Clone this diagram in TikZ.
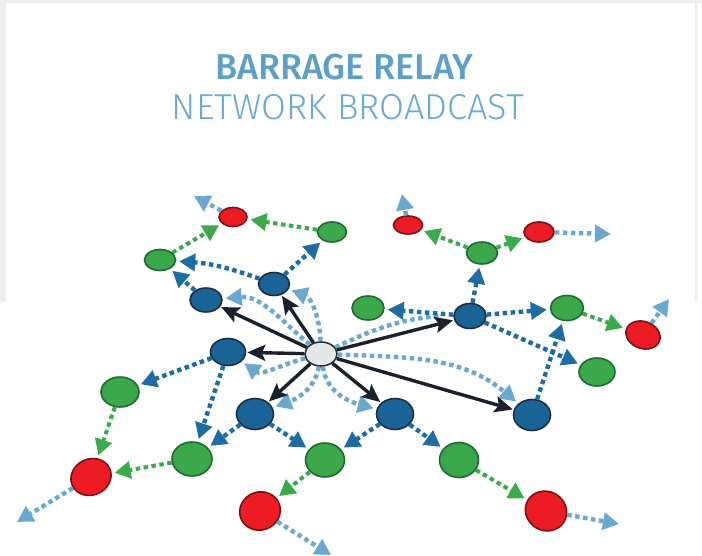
\documentclass[tikz,border=0pt]{standalone}
\usepackage{fontspec}
\setmainfont{Fira Sans}
\newfontfamily\titlemed{Fira Sans Medium}
\newfontfamily\titlelight{Fira Sans Light}
\usetikzlibrary{arrows.meta,shapes.geometric}
\definecolor{bgGray}{HTML}{EEEEEE}
\definecolor{titleBlue}{HTML}{5E9FC8}
\definecolor{titleBlueL}{HTML}{6AAAD0}
\definecolor{nodeBlue}{HTML}{1A6397}
\definecolor{blueOut}{HTML}{1C2E40}
\definecolor{edgeBlue}{HTML}{1E6CA2}
\definecolor{lightBlue}{HTML}{6AA8D0}
\definecolor{nodeGreen}{HTML}{3AA84A}
\definecolor{greenOut}{HTML}{1E6A2E}
\definecolor{edgeGreen}{HTML}{3BAA4B}
\definecolor{nodeRed}{HTML}{ED1C24}
\definecolor{redOut}{HTML}{7A1016}
\definecolor{centerGray}{HTML}{E6E7E8}
\definecolor{centerOut}{HTML}{2B2E33}
\definecolor{darkLine}{HTML}{1A212B}
\tikzset{
  nd/.style={ellipse, inner sep=0pt, line width=1.6pt},
  sz/.style 2 args={minimum width=#1pt, minimum height=#2pt},
  bn/.style={nd, fill=nodeBlue, draw=blueOut},
  gn/.style={nd, fill=nodeGreen, draw=greenOut},
  rn/.style={nd, fill=nodeRed, draw=redOut},
  cn/.style={nd, fill=centerGray, draw=centerOut},
  dotline/.style={line width=4.4pt, dash pattern=on 4.5pt off 3.5pt},
  dots/.style={dotline, -{Triangle[length=16pt,width=17pt]}, shorten >=3pt},
  lbl/.style={dots, draw=lightBlue},
  lbc/.style={dotline, draw=lightBlue},
  dbl/.style={dots, draw=edgeBlue},
  gl/.style={dots, draw=edgeGreen, line width=4pt},
  blk/.style={draw=darkLine, line width=3.4pt,
     -{Stealth[length=18pt,width=16pt,inset=3.5pt]}, shorten >=1pt},
  titleA/.style={anchor=base, text=titleBlue, font=\titlemed\fontsize{36}{40}\selectfont},
  titleB/.style={anchor=base, text=titleBlueL, font=\titlelight\fontsize{36}{40}\selectfont}
}
\begin{document}
\begin{tikzpicture}[x=1pt,y=-1pt]
\useasboundingbox (0,0) rectangle (702,556);
\fill[white] (0,0) rectangle (702,556);
\fill[bgGray] (0,0) rectangle (702,3);
\fill[bgGray] (0,0) rectangle (6,302);
\fill[bgGray] (695,0) rectangle (697,302);

\node[titleA] (t1) at (344,80) {BARRAGE RELAY};
\node[titleB] (t2) at (348,120) {NETWORK BROADCAST};

% nodes
\node[cn, sz={32}{24}] (C) at (321,354) {};
\node[bn, sz={32}{24}] (B1) at (206,300) {};
\node[bn, sz={31}{23}] (B2) at (274,284) {};
\node[bn, sz={35}{27}] (B3) at (228,352) {};
\node[bn, sz={32}{25}] (B4) at (470,316) {};
\node[bn, sz={37}{31}] (B5) at (255,414) {};
\node[bn, sz={37}{31}] (B6) at (395,414) {};
\node[bn, sz={37}{31}] (B7) at (532,415) {};
\node[gn, sz={31}{21}] (G1) at (160,260) {};
\node[gn, sz={29}{20}] (G2) at (332,232) {};
\node[gn, sz={31}{22}] (G3) at (482,253) {};
\node[gn, sz={32}{24}] (G4) at (368,308) {};
\node[gn, sz={33}{25}] (G5) at (567,308) {};
\node[gn, sz={36}{28}] (G6) at (597,372) {};
\node[gn, sz={38}{30}] (G7) at (120,392) {};
\node[gn, sz={40}{34}] (G8) at (192,459) {};
\node[gn, sz={39}{34}] (G9) at (325,460) {};
\node[gn, sz={39}{35}] (G10) at (459,460) {};
\node[rn, sz={28}{19}] (R1) at (233,217) {};
\node[rn, sz={29}{18}] (R2) at (408,225) {};
\node[rn, sz={30}{20}] (R3) at (539,232) {};
\node[rn, sz={35}{27}, rotate=-20] (R4) at (643,335) {};
\node[rn, sz={41}{36}, rotate=25] (R5) at (91,477) {};
\node[rn, sz={41}{38}, rotate=20] (R6) at (260,511) {};
\node[rn, sz={42}{39}, rotate=-30] (R7) at (546,511) {};

\coordinate (e1) at (194,196);
\coordinate (e2) at (402,194);
\coordinate (e3) at (611,234);
\coordinate (e4) at (669,299);
\coordinate (e5) at (17,522);
\coordinate (e6) at (331,555);
\coordinate (e7) at (619,524);

% light blue broadcast curves from centre
\draw[lbl] (C) to[out=140,in=5] (B1);
\draw[lbl] (C) to[out=92,in=-20] (B2);
\draw[lbl] (C) to[out=195,in=-35] (B3);
\draw[lbc] (C) to[out=25,in=185] ([xshift=-14pt]B4.west);
\draw[lbl] (C) to[out=-100,in=20] (B5);
\draw[lbl] (C) to[out=-82,in=165] (B6);
\draw[lbl] (C) to[out=-2,in=140] (B7);

% black direct arrows
\foreach \b in {B1,B2,B3,B4,B5,B6,B7} \draw[blk] (C) -- (\b);

% dark blue relays
\draw[dbl] (B1) -- (G1);
\draw[dbl] (B2) to[bend right=8] (G1);
\draw[dbl] (B2) -- (G2);
\draw[dbl] (B4) -- (G4);
\draw[dbl] (B4) -- (G3);
\draw[dbl] (B4) -- (G5);
\draw[dbl] (B4) -- (G6);
\draw[dbl] (B7) -- (G5);
\draw[dbl] (B3) -- (G7);
\draw[dbl] (B3) -- (G8);
\draw[dbl] (B5) -- (G8);
\draw[dbl] (B5) -- (G9);
\draw[dbl] (B6) -- (G9);
\draw[dbl] (B6) -- (G10);

% green relays
\draw[gl] (G1) -- (R1);
\draw[gl] (G2) -- (R1);
\draw[gl] (G3) -- (R2);
\draw[gl] (G3) -- (R3);
\draw[gl] (G5) -- (R4);
\draw[gl] (G7) -- (R5);
\draw[gl] (G8) -- (R5);
\draw[gl] (G9) -- (R6);
\draw[gl] (G10) -- (R7);

% outgoing from red
\draw[lbl, shorten >=0pt] (R1) -- (e1);
\draw[lbl, shorten >=0pt] (R2) -- (e2);
\draw[lbl, shorten >=0pt] (R3) -- (e3);
\draw[lbl, shorten >=0pt] (R4) -- (e4);
\draw[lbl, shorten >=0pt] (R5) -- (e5);
\draw[lbl, shorten >=0pt] (R6) -- (e6);
\draw[lbl, shorten >=0pt] (R7) -- (e7);
\end{tikzpicture}
\end{document}
